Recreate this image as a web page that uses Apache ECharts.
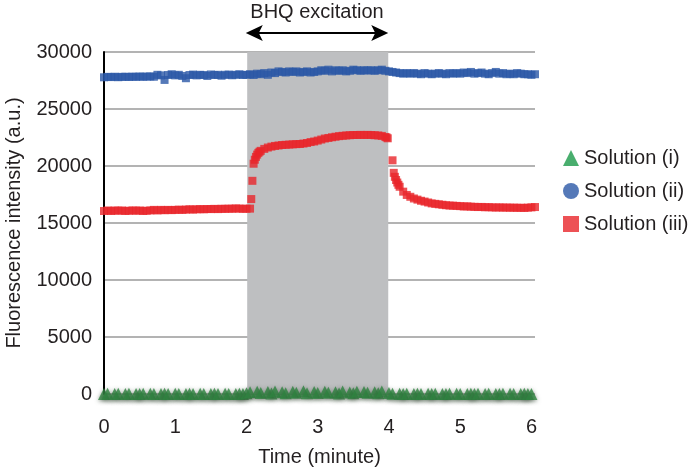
<!DOCTYPE html>
<html>
<head>
<meta charset="utf-8">
<script src="https://cdn.jsdelivr.net/npm/echarts@6/dist/echarts.min.js"></script>
<style>html,body{margin:0;padding:0;background:#fff;}#main{width:692px;height:469px;}</style>
</head>
<body>
<div id="main"></div>
<script>
const seriesNames = ['Solution (i)', 'Solution (ii)', 'Solution (iii)'];
const xTicks = [0, 1, 2, 3, 4, 5, 6];
const yTicks = [0, 5000, 10000, 15000, 20000, 25000, 30000];
const excitation = [2.01, 3.99];
const excitationLabel = 'BHQ excitation';

const timeBase = [0,0.05,0.1,0.15,0.2,0.25,0.3,0.35,0.4,0.45,0.5,0.55,0.6,0.65,0.7,0.75,0.8,0.85,0.9,0.95,
1,1.05,1.1,1.15,1.2,1.25,1.3,1.35,1.4,1.45,1.5,1.55,1.6,1.65,1.7,1.75,1.8,1.85,1.9,1.95,
2,2.05,2.1,2.15,2.2,2.25,2.3,2.35,2.4,2.45,2.5,2.55,2.6,2.65,2.7,2.75,2.8,2.85,2.9,2.95,
3,3.05,3.1,3.15,3.2,3.25,3.3,3.35,3.4,3.45,3.5,3.55,3.6,3.65,3.7,3.75,3.8,3.85,3.9,3.95,
4,4.05,4.1,4.15,4.2,4.25,4.3,4.35,4.4,4.45,4.5,4.55,4.6,4.65,4.7,4.75,4.8,4.85,4.9,4.95,
5,5.05,5.1,5.15,5.2,5.25,5.3,5.35,5.4,5.45,5.5,5.55,5.6,5.65,5.7,5.75,5.8,5.85,5.9,5.95,6,6.05];

const greenVals = [0,20,-20,10,30,-10,0,20,-20,10,
0,30,-10,20,0,-20,10,30,0,-10,
20,0,-20,10,30,0,-10,20,10,-20,
0,20,10,-10,30,0,-20,10,20,0,
60,150,-40,200,80,-60,180,40,220,-30,
160,60,-50,200,100,-40,240,60,-20,180,
80,-60,200,120,-30,160,40,220,-50,140,
60,200,-40,180,100,-20,160,60,220,-30,
80,20,-10,30,0,20,-20,10,30,0,
-10,20,0,30,-20,10,0,20,-10,30,
0,-20,10,30,0,20,-10,0,30,-20,
10,0,20,-10,30,0,-20,10,20,0,
10,-10];

const blueVals = [27780,27820,27800,27830,27790,27820,27830,27810,27840,27820,
27850,27830,27840,27860,27830,28000,27950,27550,27980,28050,
27950,28000,27900,27700,27980,28020,27950,28000,27980,27900,
28030,27980,28000,27920,28000,28020,27960,28000,28050,27980,
28000,28050,27980,28100,28050,28150,28000,28200,28150,28300,
28250,28200,28300,28250,28300,28200,28250,28300,28200,28250,
28300,28400,28350,28450,28300,28400,28350,28400,28300,28350,
28450,28400,28350,28400,28380,28400,28350,28400,28450,28350,
28300,28250,28200,28150,28100,28150,28100,28150,28100,28050,
28150,28100,28050,28100,28150,28100,28050,28150,28100,28150,
28100,28200,28150,28250,28100,28150,28200,28100,28050,28150,
28250,28100,28150,28050,28100,28050,28150,28100,28050,28050,
28000,28050];

const redTimes = [0,0.05,0.1,0.15,0.2,0.25,0.3,0.35,0.4,0.45,0.5,0.55,0.6,0.65,0.7,0.75,0.8,0.85,0.9,0.95,
1,1.05,1.1,1.15,1.2,1.25,1.3,1.35,1.4,1.45,1.5,1.55,1.6,1.65,1.7,1.75,1.8,1.85,1.9,1.95,
2,2.05,2.067,2.083,2.1,2.117,2.133,2.15,2.167,2.183,2.2,
2.25,2.3,2.35,2.4,2.45,2.5,2.55,2.6,2.65,2.7,2.75,2.8,2.85,2.9,2.95,
3,3.05,3.1,3.15,3.2,3.25,3.3,3.35,3.4,3.45,3.5,3.55,3.6,3.65,3.7,3.75,3.8,3.85,3.9,3.95,
3.967,3.983,4.05,4.067,4.083,4.1,4.117,4.133,4.15,
4.2,4.25,4.3,4.35,4.4,4.45,4.5,4.55,4.6,4.65,4.7,4.75,4.8,4.85,4.9,4.95,
5,5.05,5.1,5.15,5.2,5.25,5.3,5.35,5.4,5.45,5.5,5.55,5.6,5.65,5.7,5.75,5.8,5.85,5.9,5.95,6,6.05];

const redVals = [16050,16100,16050,16100,16080,16100,16050,16080,16100,16080,
16100,16050,16080,16100,16150,16100,16150,16120,16150,16130,
16150,16170,16150,16180,16200,16180,16200,16220,16200,16230,
16220,16240,16220,16250,16240,16260,16250,16280,16260,16250,
16250,16260,17100,18700,20200,20550,20800,21000,21150,21250,21330,
21500,21620,21700,21760,21800,21840,21860,21880,21900,21920,21930,21970,22020,22100,22150,
22230,22320,22410,22460,22520,22570,22620,22650,22680,22700,22720,22720,22730,22720,22730,22720,22700,22680,22640,22550,
22500,22430,20500,19400,19050,18770,18550,18350,18180,
17750,17460,17300,17150,17050,16950,16880,16800,16720,16680,16640,16600,16560,16530,16520,16500,
16480,16450,16460,16430,16420,16400,16410,16380,16390,16370,16360,16370,16350,16360,16340,16350,16330,16340,16320,16350,16370,16400];

function zip(ts, vs) { return ts.map((t, i) => [t, vs[i]]); }

const chart = echarts.init(document.getElementById('main'), null, {renderer: 'canvas'});
const FONT = '"Liberation Sans", Arial, sans-serif';
const TXT = '#231f20';

const option = {
  animation: false,
  backgroundColor: '#ffffff',
  grid: {left: 104, right: 157, top: 52, bottom: 75, containLabel: false, outerBoundsMode: 'none'},
  legend: {
    orient: 'vertical', left: 558, top: 143,
    itemWidth: 16, itemHeight: 16, itemGap: 13,
    textStyle: {fontSize: 20, color: TXT, fontFamily: FONT},
    data: [
      {name: seriesNames[0], icon: 'triangle', itemStyle: {color: '#1c9a4a'}},
      {name: seriesNames[1], icon: 'circle', itemStyle: {color: '#2b58a6'}},
      {name: seriesNames[2], icon: 'rect', itemStyle: {color: '#e8262b'}}
    ]
  },
  xAxis: {
    type: 'value', min: 0, max: 6.05, interval: 1,
    name: 'Time (minute)', nameLocation: 'middle', nameGap: 53,
    nameTextStyle: {fontSize: 20, color: TXT, fontFamily: FONT},
    axisLine: {show: false}, axisTick: {show: false},
    splitLine: {show: false},
    axisLabel: {
      fontSize: 20, color: TXT, fontFamily: FONT, margin: 23,
      formatter: v => xTicks.indexOf(v) >= 0 ? String(v) : ''
    }
  },
  yAxis: {
    type: 'value', min: 0, max: 30000, interval: 5000,
    name: 'Fluorescence intensity (a.u.)', nameLocation: 'middle', nameGap: 80,
    nameTextStyle: {fontSize: 20, color: TXT, fontFamily: FONT},
    axisLine: {show: true, lineStyle: {color: '#000', width: 2}},
    axisTick: {show: false},
    splitLine: {show: true, lineStyle: {color: '#9a9a9a', width: 1.5}},
    axisLabel: {
      fontSize: 20, color: TXT, fontFamily: FONT, margin: 12,
      formatter: v => yTicks.indexOf(v) >= 0 ? String(v) : ''
    }
  },
  series: [
    {
      name: seriesNames[0], type: 'scatter', symbol: 'triangle', symbolSize: 12,
      itemStyle: {color: '#2e8440', shadowBlur: 4, shadowColor: 'rgba(60,80,60,0.7)', shadowOffsetY: 1},
      data: zip(timeBase, greenVals), z: 4,
      markArea: {
        silent: true,
        itemStyle: {color: '#bebfc1', opacity: 1},
        data: [[{xAxis: excitation[0]}, {xAxis: excitation[1]}]]
      }
    },
    {
      name: seriesNames[1], type: 'scatter', symbol: 'rect', symbolSize: 8,
      itemStyle: {color: '#2b58a6'},
      data: zip(timeBase, blueVals), z: 3
    },
    {
      name: seriesNames[2], type: 'scatter', symbol: 'rect', symbolSize: 8,
      itemStyle: {color: '#e8262b'},
      data: zip(redTimes, redVals), z: 3
    }
  ]
};
chart.setOption(option);

const pL = chart.convertToPixel({gridIndex: 0}, [excitation[0] - 0.02, 30000]);
const pR = chart.convertToPixel({gridIndex: 0}, [excitation[1], 30000]);
const ay = pL[1] - 19;
const head = 17, hw = 8;
chart.setOption({
  graphic: [
    {type: 'line', shape: {x1: pL[0] + 6, y1: ay, x2: pR[0] - 6, y2: ay}, style: {stroke: '#000', lineWidth: 2}},
    {type: 'polygon', shape: {points: [[pL[0], ay], [pL[0] + head, ay - hw], [pL[0] + head - 4, ay], [pL[0] + head, ay + hw]]}, style: {fill: '#000'}},
    {type: 'polygon', shape: {points: [[pR[0], ay], [pR[0] - head, ay - hw], [pR[0] - head + 4, ay], [pR[0] - head, ay + hw]]}, style: {fill: '#000'}},
    {type: 'text', x: (pL[0] + pR[0]) / 2, y: ay - 21, style: {text: excitationLabel, fontSize: 20, fill: TXT, fontFamily: FONT, align: 'center', verticalAlign: 'middle'}}
  ]
});
</script>
</body>
</html>
